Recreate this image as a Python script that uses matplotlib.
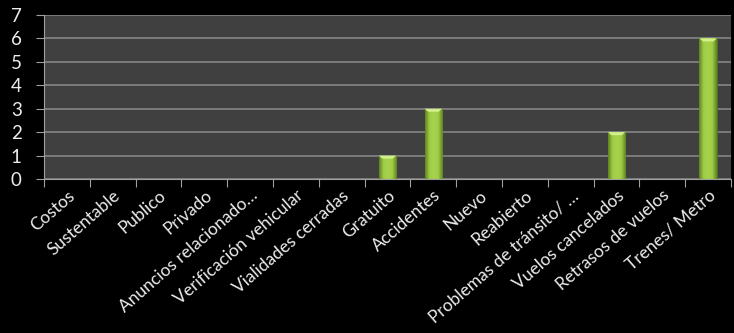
import matplotlib
matplotlib.use("Agg")
import matplotlib.pyplot as plt
import numpy as np
from matplotlib.colors import LinearSegmentedColormap

categories = ["Costos", "Sustentable", "Publico", "Privado", "Anuncios relacionado…",
              "Verificación vehicular", "Vialidades cerradas", "Gratuito", "Accidentes",
              "Nuevo", "Reabierto", "Problemas de tránsito/ …", "Vuelos cancelados",
              "Retrasos de vuelos", "Trenes/ Metro"]
values = [0, 0, 0, 0, 0, 0, 0, 1, 3, 0, 0, 0, 2, 0, 6]
yticks = [0, 1, 2, 3, 4, 5, 6, 7]

plt.rcParams['font.family'] = ['Lato', 'DejaVu Sans']

fig = plt.figure(figsize=(7.34, 3.33), dpi=100, facecolor='black')
ax = fig.add_axes([0.060, 0.4625, 0.936, 0.4925])
ax.set_facecolor('#404040')

x = np.arange(len(categories))
bars = ax.bar(x, values, width=0.38, color='#8cb83a', edgecolor='#4f6e1a', lw=0.6, zorder=3)

# horizontal gradient inside bars
cmap = LinearSegmentedColormap.from_list('g', ['#5f8420', '#9fcc45', '#a8d24e', '#9fcc45', '#5f8420'])
grad = np.linspace(0, 1, 64).reshape(1, -1)
for b, v in zip(bars, values):
    if v <= 0:
        continue
    x0, w = b.get_x(), b.get_width()
    im = ax.imshow(grad, cmap=cmap, aspect='auto', extent=(x0, x0 + w, 0, v), zorder=4)
    im.set_clip_path(b)
    # top bevel highlight
    th = 0.13
    ax.fill([x0, x0 + w, x0 + w * 0.8, x0 + w * 0.2], [v, v, v - th, v - th],
            color='#d2ef8a', zorder=5, lw=0)

ax.set_xlim(-0.5, len(categories) - 0.5)
ax.set_ylim(0, 7)
ax.set_yticks(yticks)
ax.set_xticks(np.arange(len(categories) + 1) - 0.5, minor=False)
ax.set_xticklabels([])
ax.set_xticks(x, minor=True)
ax.set_xticklabels(categories, minor=True, rotation=41, ha='right', rotation_mode='anchor',
                   color='#ececec', fontsize=12.5)
ax.tick_params(axis='x', which='minor', length=0, pad=6)
ax.tick_params(axis='x', which='major', length=6, color='#a0a0a0', direction='out')
ax.tick_params(axis='y', length=6, color='#a0a0a0', labelcolor='#ececec', labelsize=13.5, pad=10)
ax.grid(axis='y', color='#858585', lw=1.2, zorder=1)
ax.set_axisbelow(True)
for s in ['top', 'right']:
    ax.spines[s].set_visible(False)
for s in ['left', 'bottom']:
    ax.spines[s].set_color('#a0a0a0')
    ax.spines[s].set_zorder(6)

fig.savefig('out.png', dpi=100, facecolor='black')
